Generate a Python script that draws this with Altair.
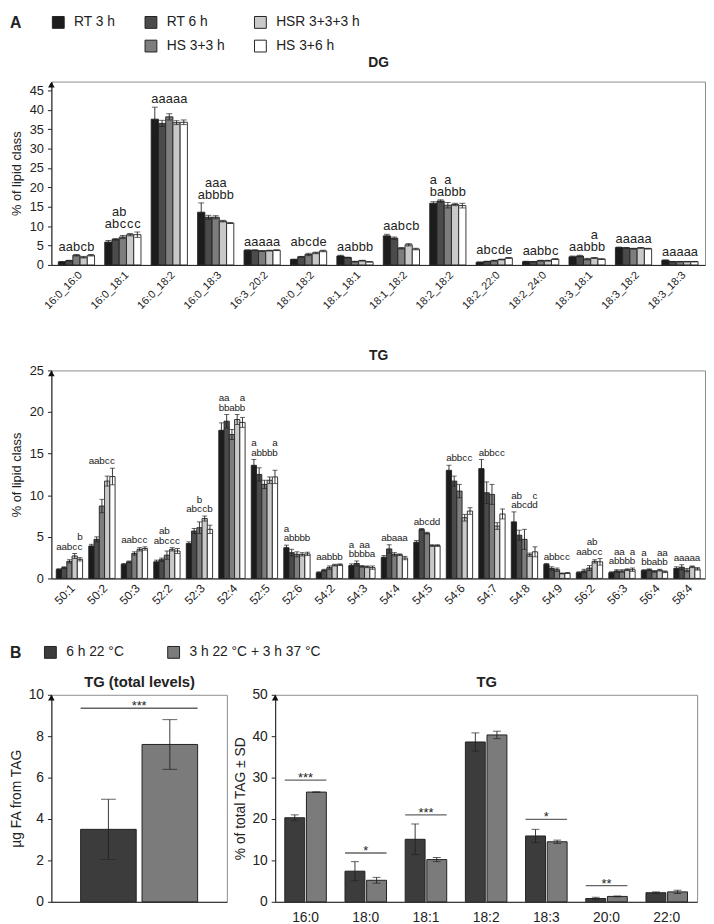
import altair as alt
import pandas as pd

FONT = "Liberation Sans"
INK = "#222222"

# ---------------- Panel A data ----------------
SERIES = ["RT 3 h", "RT 6 h", "HS 3+3 h", "HSR 3+3+3 h", "HS 3+6 h"]
# legend entries are laid out column by column (2 rows x 3 columns)
LEGEND_A = ["RT 3 h", " ", "RT 6 h", "HS 3+3 h", "HSR 3+3+3 h", "HS 3+6 h"]
LEGEND_A_FILL = ["#1c1c1c", "transparent", "#4b4b4b", "#7d7d7d", "#c9c9c9", "#ffffff"]
LEGEND_A_STROKE = [INK, "transparent", INK, INK, INK, INK]

DG_SPECIES = ["16:0_16:0", "16:0_18:1", "16:0_18:2", "16:0_18:3", "16:3_20:2", "18:0_18:2",
              "18:1_18:1", "18:1_18:2", "18:2_18:2", "18:2_22:0", "18:2_24:0", "18:3_18:1",
              "18:3_18:2", "18:3_18:3"]
DG_RT3 = [0.8, 5.9, 37.6, 13.6, 3.8, 1.4, 2.3, 7.5, 15.9, 0.7, 0.85, 2.1, 4.5, 1.2]
DG_RT6 = [1.1, 6.6, 36.5, 12.3, 3.8, 2.1, 1.9, 6.9, 16.5, 0.9, 0.85, 2.3, 4.4, 0.85]
DG_HS33 = [2.5, 7.2, 38.2, 12.3, 3.6, 2.7, 0.85, 4.3, 15.4, 1.1, 1.1, 1.5, 4.2, 0.85]
DG_HSR = [2.0, 7.8, 36.7, 11.3, 3.7, 3.1, 1.1, 5.2, 15.6, 1.4, 1.1, 1.8, 4.4, 0.85]
DG_HS36 = [2.5, 7.8, 36.8, 10.8, 3.8, 3.6, 0.8, 4.1, 15.3, 1.8, 1.5, 1.5, 4.2, 0.85]
DG_RT3_SD = [0.1, 0.4, 3.1, 2.4, 0.1, 0.1, 0.2, 0.4, 0.4, 0.05, 0.1, 0.2, 0.1, 0.1]
DG_RT6_SD = [0.1, 0.2, 0.8, 0.5, 0.1, 0.1, 0.1, 0.3, 0.3, 0.05, 0.05, 0.2, 0.1, 0.05]
DG_HS33_SD = [0.2, 0.4, 0.8, 0.4, 0.1, 0.3, 0.1, 0.2, 0.7, 0.1, 0.1, 0.2, 0.1, 0.05]
DG_HSR_SD = [0.2, 0.3, 0.5, 0.2, 0.1, 0.2, 0.1, 0.3, 0.3, 0.1, 0.1, 0.1, 0.1, 0.05]
DG_HS36_SD = [0.2, 0.7, 0.6, 0.1, 0.1, 0.2, 0.05, 0.2, 0.6, 0.1, 0.1, 0.1, 0.1, 0.05]
DG_LETTERS = ["aabcb", "abccc", "aaaaa", "abbbb", "aaaaa", "abcde", "aabbb", "aabcb", "babbb",
              "abcde", "aabbc", "aabbb", "aaaaa", "aaaaa"]
DG_LETTERS_UP = ["     ", " ab  ", "     ", " aaa ", "     ", "     ", "     ", "     ", "a a  ",
                 "     ", "     ", "   a ", "     ", "     "]

TG_SPECIES = ["50:1", "50:2", "50:3", "52:2", "52:3", "52:4", "52:5", "52:6", "54:2", "54:3",
              "54:4", "54:5", "54:6", "54:7", "54:8", "54:9", "56:2", "56:3", "56:4", "58:4"]
TG_RT3 = [1.07, 3.9, 1.7, 2.0, 4.2, 17.8, 13.6, 3.7, 0.7, 1.55, 2.55, 4.35, 13.0, 13.2, 6.8, 1.7, 0.7, 0.7, 0.95, 1.2]
TG_RT6 = [1.3, 4.7, 2.0, 2.25, 5.7, 18.9, 12.5, 3.1, 1.0, 1.8, 3.55, 5.9, 11.7, 10.3, 5.2, 1.2, 0.9, 0.9, 1.05, 1.35]
TG_HS33 = [2.05, 8.7, 3.0, 2.8, 6.1, 17.3, 11.3, 2.9, 1.3, 1.45, 2.9, 5.45, 10.5, 10.1, 4.7, 1.05, 1.25, 0.9, 0.85, 1.0]
TG_HSR = [2.7, 11.7, 3.5, 3.5, 7.2, 19.1, 11.8, 2.9, 1.6, 1.4, 2.85, 3.95, 7.3, 6.3, 2.85, 0.6, 2.05, 1.05, 1.0, 1.4]
TG_HS36 = [2.3, 12.25, 3.6, 3.3, 5.9, 18.75, 12.2, 2.95, 1.65, 1.3, 2.45, 3.95, 8.1, 7.75, 3.2, 0.65, 2.0, 1.05, 0.8, 1.15]
TG_RT3_SD = [0.1, 0.2, 0.1, 0.2, 0.2, 0.9, 0.7, 0.3, 0.1, 0.2, 0.2, 0.2, 0.6, 1.1, 1.2, 0.1, 0.1, 0.1, 0.1, 0.2]
TG_RT6_SD = [0.1, 0.3, 0.1, 0.2, 0.3, 0.8, 0.8, 0.4, 0.1, 0.3, 0.5, 0.1, 0.6, 1.3, 0.6, 0.2, 0.2, 0.15, 0.1, 0.3]
TG_HS33_SD = [0.2, 0.8, 0.2, 0.5, 0.7, 0.6, 0.5, 0.3, 0.2, 0.1, 0.2, 0.1, 0.8, 1.2, 1.2, 0.2, 0.3, 0.15, 0.1, 0.2]
TG_HSR_SD = [0.3, 0.6, 0.2, 0.2, 0.3, 0.6, 0.4, 0.2, 0.1, 0.1, 0.1, 0.1, 0.4, 0.4, 0.2, 0.05, 0.2, 0.1, 0.1, 0.1]
TG_HS36_SD = [0.2, 1.0, 0.2, 0.3, 0.5, 0.6, 0.8, 0.2, 0.1, 0.2, 0.2, 0.1, 0.4, 0.6, 0.6, 0.05, 0.4, 0.2, 0.1, 0.15]
TG_LETTERS = ["aabcc", "aabcc", "aabcc", "abccc", "abccb", "bbabb", "abbbb", "abbbb", "aabbb", "bbbba",
              "abaaa", "abcdd", "abbcc", "abbcc", "abcdd", "abbcc", "aabcc", "abbbb", "bbabb", "aaaaa"]
TG_LETTERS_UP = ["    b", "     ", "     ", " ab  ", "  b  ", "aa  a", "a   a", "a    ", "     ", "a aa ",
                 "     ", "     ", "     ", "     ", "ab  c", "     ", "  ab ", " aa a", "a  aa", "     "]

# ---------------- Panel B data ----------------
B_CONDS = ["6 h 22 °C", "3 h 22 °C + 3 h 37 °C"]
B_COLORS = ["#3c3c3c", "#7b7b7b"]
TOTAL_MEAN = [3.5, 7.6]
TOTAL_SD = [1.45, 1.2]
TOTAL_SIG_Y = [9.35]
TOTAL_SIG_TXT = ["***"]

FA = ["16:0", "18:0", "18:1", "18:2", "18:3", "20:0", "22:0"]
FA_22 = [20.3, 7.4, 15.1, 38.6, 15.9, 0.8, 2.2]
FA_22_SD = [0.7, 2.3, 3.7, 2.2, 1.6, 0.3, 0.2]
FA_37 = [26.5, 5.2, 10.2, 40.3, 14.5, 1.3, 2.4]
FA_37_SD = [0.0, 0.7, 0.5, 0.9, 0.4, 0.1, 0.4]
SIG_FA = ["16:0", "18:0", "18:1", "18:3", "20:0"]
SIG_Y = [29.4, 11.8, 21.0, 19.9, 3.9]
SIG_TXT = ["***", "*", "***", "*", "**"]

INDEP = dict(fill="independent", stroke="independent", xOffset="independent")


def arrow_layer(ymax, yenc):
    return alt.Chart(pd.DataFrame({"v": [ymax]})).mark_point(
        shape="triangle-up", filled=True, color="#111", opacity=1, size=45, yOffset=3
    ).encode(x=alt.value(0), y=yenc("v"))


def title_axis(title, size, pad):
    return alt.Axis(orient="top", title=title, labels=False, ticks=False, domain=False,
                    titleFontSize=size, titleFontWeight="bold", titleColor=INK,
                    titlePadding=pad, minExtent=0)


def panel_a(species, means, sds, lower, upper, title, width, height, ymax, yticks,
            fs, lineh, cap, pad_inner, legend, title_pad, xlab_size):
    rows = []
    for gi, sp in enumerate(species):
        top = max(means[k][gi] + sds[k][gi] for k in range(5))
        for k, s in enumerate(SERIES):
            m, e = means[k][gi], sds[k][gi]
            rows.append({"species": sp, "series": s, "mean": m, "lo": m - e, "hi": m + e,
                         "top": top, "l1": lower[gi][k], "l2": upper[gi][k].strip()})
    df = pd.DataFrame(rows)
    xsc = alt.Scale(domain=species, paddingInner=pad_inner, paddingOuter=0.15)
    x_axis = alt.X("species:N", scale=xsc,
                   axis=alt.Axis(orient="bottom", title=None, labelAngle=-45, ticks=False,
                                 labelFontSize=xlab_size, labelPadding=4, domainColor=INK,
                                 labelColor=INK))
    x_none = alt.X("species:N", scale=xsc, axis=None)
    x_top = alt.X("species:N", scale=xsc, axis=title_axis(title, 14, title_pad))
    xo = alt.XOffset("series:N", scale=alt.Scale(domain=SERIES, paddingInner=0))
    ysc = alt.Scale(domain=[0, ymax], nice=False, zero=True)
    yax = alt.Axis(values=yticks, title="% of lipid class", titleFontSize=13,
                   titleFontWeight="normal", labelFontSize=13, tickSize=4, labelPadding=4,
                   titlePadding=6, domainColor=INK, tickColor=INK, labelColor=INK,
                   titleColor=INK, grid=False)

    def Y(f):
        return alt.Y(f, type="quantitative", scale=ysc, axis=yax)

    base = alt.Chart(df)
    bars = base.mark_bar(strokeWidth=0.9).encode(
        x=x_axis, xOffset=xo, y=Y("mean"),
        fill=alt.Fill("series:N", scale=alt.Scale(domain=LEGEND_A, range=LEGEND_A_FILL), legend=legend),
        stroke=alt.Stroke("series:N", scale=alt.Scale(domain=LEGEND_A, range=LEGEND_A_STROKE), legend=legend),
    )
    err = base.mark_rule(color=INK, strokeWidth=0.9).encode(x=x_none, xOffset=xo, y=Y("lo"), y2="hi")
    cap_hi = base.mark_tick(color=INK, thickness=1, size=cap).encode(x=x_none, xOffset=xo, y=Y("hi"))
    cap_lo = base.mark_tick(color=INK, thickness=1, size=cap).encode(x=x_none, xOffset=xo, y=Y("lo"))
    t1 = base.mark_text(fontSize=fs, baseline="alphabetic", dy=-4, color=INK).encode(
        x=x_none, xOffset=xo, y=Y("top"), text="l1:N")
    t2 = base.mark_text(fontSize=fs, baseline="alphabetic", dy=-4 - lineh, color=INK).encode(
        x=x_top, xOffset=xo, y=Y("top"), text="l2:N")
    arrow = arrow_layer(ymax, Y)
    return alt.layer(bars, err, cap_hi, cap_lo, t1, t2, arrow).properties(width=width, height=height)


legend_a = alt.Legend(orient="none", legendX=-42, legendY=-67, columns=3, title="A",
                      titleOrient="left", titleAnchor="start", titleBaseline="top",
                      titleFontSize=16, titleFontWeight="bold", padding=0,
                      titlePadding=30, titleColor=INK, labelFontSize=14, labelColor=INK,
                      symbolType="square", symbolSize=144, symbolStrokeWidth=1,
                      columnPadding=28, rowPadding=8, labelOffset=9, labelLimit=300)

dg = panel_a(DG_SPECIES, [DG_RT3, DG_RT6, DG_HS33, DG_HSR, DG_HS36],
             [DG_RT3_SD, DG_RT6_SD, DG_HS33_SD, DG_HSR_SD, DG_HS36_SD],
             DG_LETTERS, DG_LETTERS_UP, "DG", 663, 186, 47.3, list(range(0, 46, 5)),
             13, 12, 6, 0.22, legend_a, 12, 11)
tg = panel_a(TG_SPECIES, [TG_RT3, TG_RT6, TG_HS33, TG_HSR, TG_HS36],
             [TG_RT3_SD, TG_RT6_SD, TG_HS33_SD, TG_HSR_SD, TG_HS36_SD],
             TG_LETTERS, TG_LETTERS_UP, "TG", 663, 211, 25, list(range(0, 26, 5)),
             10, 9.5, 5, 0.19, None, 8, 12)


# ---------------- Panel B ----------------
def panel_b(cats, m1, s1, m2, s2, sig_cats, sig_y, sig_txt, title, width, height, ymax, yticks,
            ytitle, cap, pad_inner, pad_outer, off_inner, show_labels, legend):
    rows = []
    for i, c in enumerate(cats):
        for cond, m, s in ((B_CONDS[0], m1[i], s1[i]), (B_CONDS[1], m2[i], s2[i])):
            rows.append({"cat": c, "cond": cond, "mean": m, "lo": m - s, "hi": m + s})
    df = pd.DataFrame(rows)
    sdf = pd.DataFrame({"cat": sig_cats, "y": sig_y, "txt": sig_txt})
    n = len(cats)
    step = width / (n - pad_inner + 2 * pad_outer)
    band_px = step * (1 - pad_inner)
    xsc = alt.Scale(domain=cats, paddingInner=pad_inner, paddingOuter=pad_outer)
    x_axis = alt.X("cat:N", scale=xsc,
                   axis=alt.Axis(orient="bottom", title=None, labelAngle=0, ticks=False,
                                 labels=show_labels, labelFontSize=14, labelPadding=9,
                                 domainColor=INK, labelColor=INK))
    x_none = alt.X("cat:N", scale=xsc, axis=None)
    x_top = alt.X("cat:N", scale=xsc, axis=title_axis(title, 15, 5))
    xo = alt.XOffset("cond:N", scale=alt.Scale(domain=B_CONDS, paddingInner=off_inner))
    ysc = alt.Scale(domain=[0, ymax], nice=False, zero=True)
    yax = alt.Axis(values=yticks, title=ytitle, titleFontSize=14, titleFontWeight="normal",
                   labelFontSize=14, tickSize=4, labelPadding=4, titlePadding=5,
                   domainColor=INK, tickColor=INK, labelColor=INK, titleColor=INK, grid=False)

    def Y(f):
        return alt.Y(f, type="quantitative", scale=ysc, axis=yax)

    base = alt.Chart(df)
    bars = base.mark_bar(stroke=INK, strokeWidth=1).encode(
        x=x_axis, xOffset=xo, y=Y("mean"),
        fill=alt.Fill("cond:N", scale=alt.Scale(domain=B_CONDS, range=B_COLORS), legend=legend))
    err = base.mark_rule(color=INK, strokeWidth=0.9).encode(x=x_none, xOffset=xo, y=Y("lo"), y2="hi")
    cap_hi = base.mark_tick(color=INK, thickness=1, size=cap).encode(x=x_none, xOffset=xo, y=Y("hi"))
    cap_lo = base.mark_tick(color=INK, thickness=1, size=cap).encode(x=x_none, xOffset=xo, y=Y("lo"))
    sbase = alt.Chart(sdf)
    sig_line = sbase.mark_tick(color=INK, thickness=1.4, size=band_px).encode(x=x_none, y=Y("y"))
    sig_txt_l = sbase.mark_text(fontSize=13, baseline="alphabetic", dy=2, color=INK).encode(
        x=x_top, y=Y("y"), text="txt:N")
    arrow = arrow_layer(ymax, Y)
    return alt.layer(bars, err, cap_hi, cap_lo, sig_line, sig_txt_l, arrow).properties(
        width=width, height=height)


legend_b = alt.Legend(orient="none", legendX=-42, legendY=-50, columns=2, title="B",
                      titleOrient="left", titleAnchor="start", titleBaseline="top",
                      titleFontSize=16, titleFontWeight="bold", padding=0,
                      titlePadding=22, titleColor=INK, labelFontSize=14, labelColor=INK,
                      symbolType="square", symbolSize=144, symbolStrokeWidth=1,
                      symbolStrokeColor=INK, columnPadding=42, labelOffset=9, labelLimit=300)

b_left = panel_b([""], [TOTAL_MEAN[0]], [TOTAL_SD[0]], [TOTAL_MEAN[1]], [TOTAL_SD[1]],
                 [""], TOTAL_SIG_Y, TOTAL_SIG_TXT, "TG (total levels)", 178, 210, 10,
                 [0, 2, 4, 6, 8, 10], "µg FA from TAG", 15, 0.0, 0.25, 0.095, False, legend_b)
b_right = panel_b(FA, FA_22, FA_22_SD, FA_37, FA_37_SD, SIG_FA, SIG_Y, SIG_TXT, "TG",
                  428, 210, 50, [0, 10, 20, 30, 40, 50], "% of total TAG ± SD", 8,
                  0.31, 0.16, 0.08, True, None)

panel_B = alt.hconcat(b_left, b_right, spacing=49, bounds="flush").resolve_scale(**INDEP)

lower = alt.vconcat(tg, panel_B, spacing=38).resolve_scale(**INDEP)

chart = alt.vconcat(dg, lower, spacing=37).resolve_scale(**INDEP).properties(
    padding={"left": 0, "top": 0, "right": 0, "bottom": 0}
).configure(font=FONT, padding={"left": 0, "top": 0, "right": 0, "bottom": 0}).configure_view(
    stroke="#8c8c8c", strokeWidth=1
).configure_text(font=FONT)

chart.save("out.html", embed_options={"renderer": "svg", "actions": False})
